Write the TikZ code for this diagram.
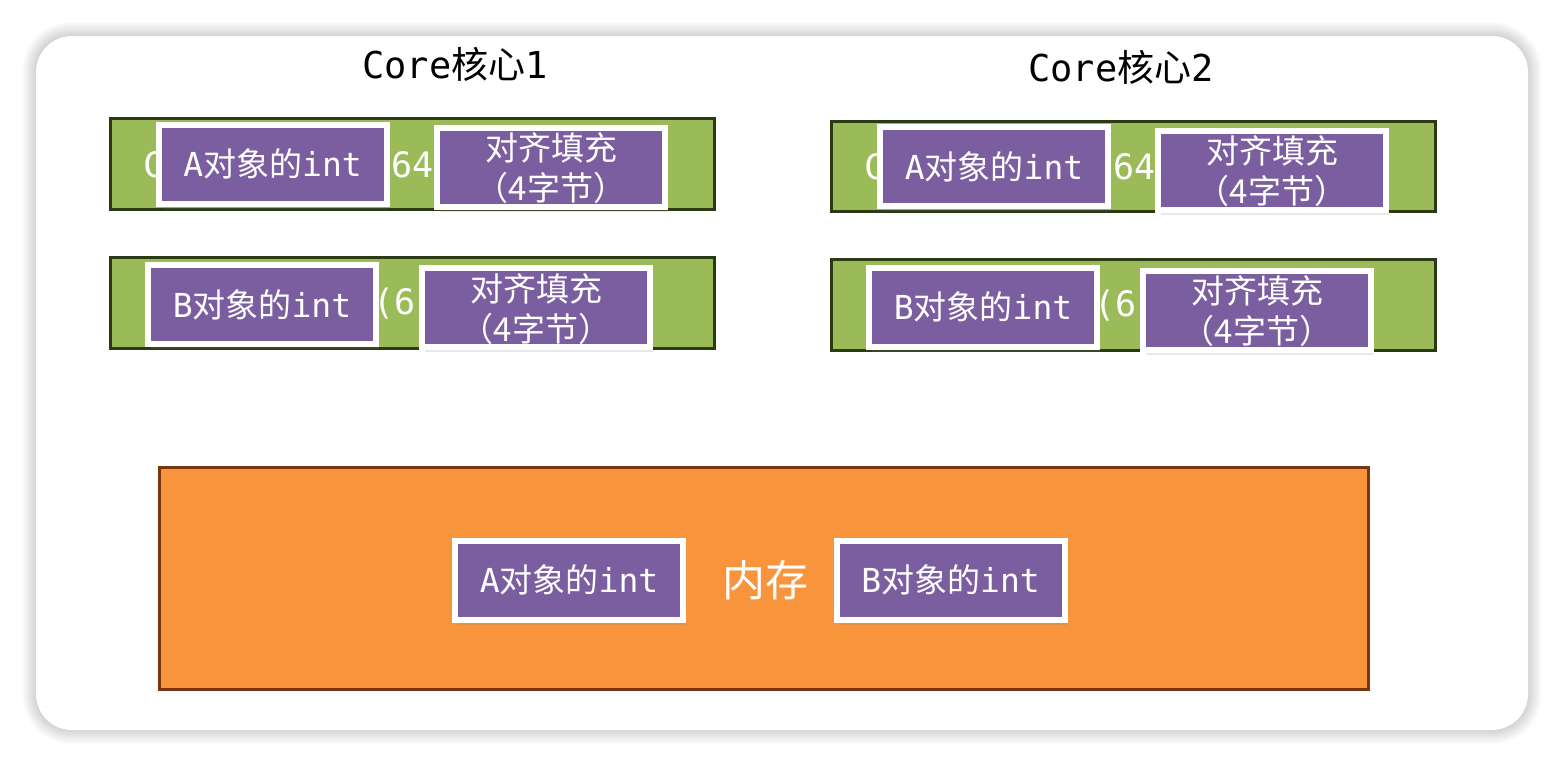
\documentclass[tikz,border=0pt]{standalone}
\usepackage{fontspec}
\setmonofont{DejaVu Sans Mono}
\newfontfamily\cjk{Noto Sans CJK SC}
\usetikzlibrary{shadows}
\definecolor{barfill}{HTML}{9BBB59}
\definecolor{bardraw}{HTML}{2C3A14}
\definecolor{objfill}{HTML}{7B5EA0}
\definecolor{memfill}{HTML}{F8943C}
\definecolor{memdraw}{HTML}{7A3510}
\newcommand{\mt}[1]{{\ttfamily #1}}
\newcommand{\ct}[1]{{\cjk #1}}
\tikzset{
  bar/.style={draw=bardraw, fill=barfill, line width=3pt},
  mem/.style={draw=memdraw, fill=memfill, line width=3pt},
  obj/.style={draw=white, fill=objfill, line width=6pt, minimum width=228pt, minimum height=79pt,
    inner sep=0pt, text=white, align=center,
    drop shadow={opacity=0.18, shadow xshift=3pt, shadow yshift=-5pt},
    font=\fontsize{33}{38}\selectfont},
  pad/.style={obj},
  padtxt/.style={text=white, inner sep=0pt, anchor=base, font=\fontsize{33}{38}\selectfont\cjk},
  frag/.style={text=white, anchor=west, inner sep=0pt, font=\fontsize{35}{38}\selectfont\ttfamily},
  title/.style={text=black, inner sep=0pt, font=\fontsize{37}{42}\selectfont},
}
\begin{document}
\begin{tikzpicture}[x=1pt,y=-1pt]
\useasboundingbox (0,0) rectangle (1564,766);
\fill[white] (0,0) rectangle (1564,766);
% card shadow
\foreach \i in {1,...,14}{
  \fill[black, opacity=0.011, rounded corners={35pt+\i pt}] (36-\i,36-\i) rectangle (1528+\i,730+\i);
}
\fill[white, rounded corners=36pt] (36,36) rectangle (1528,730);

% titles
\node[title] (t1) at (455,64) {\mt{Core}\ct{核心}\mt{1}};
\node[title] (t2) at (1121,67) {\mt{Core}\ct{核心}\mt{2}};

% core 1
\draw[bar] (110.5,118.5) rectangle (714.5,209.5);
\node[frag] (c1c) at (143,165) {C};
\node[frag] (c1n) at (391,165) {64};
\draw[bar] (110.5,257.5) rectangle (714.5,348.5);
\node[frag] (c1p) at (373,304) {(6};
\node[obj] (c1a) at (272.5,164) {\mt{A}\ct{对象的}\mt{int}};
\node[pad] (c1pa) at (551,167) {};
\node[padtxt] (c1pa1) at ([yshift=6.5pt]c1pa.center) {对齐填充};
\node[padtxt] (c1pa2) at ([yshift=-33.5pt]c1pa.center) {（4字节）};
\node[obj] (c1b) at (262,304.5) {\mt{B}\ct{对象的}\mt{int}};
\node[pad] (c1pb) at (536,307.5) {};
\node[padtxt] (c1pb1) at ([yshift=6.5pt]c1pb.center) {对齐填充};
\node[padtxt] (c1pb2) at ([yshift=-33.5pt]c1pb.center) {（4字节）};

% core 2
\draw[bar] (831.5,121.5) rectangle (1435.5,211.5);
\node[frag] (c2c) at (864,167) {C};
\node[frag] (c2n) at (1113,167) {64};
\draw[bar] (831.5,259.5) rectangle (1435.5,350.5);
\node[frag] (c2p) at (1094,306) {(6};
\node[obj] (c2a) at (994,166.5) {\mt{A}\ct{对象的}\mt{int}};
\node[pad] (c2pa) at (1272,170) {};
\node[padtxt] (c2pa1) at ([yshift=6.5pt]c2pa.center) {对齐填充};
\node[padtxt] (c2pa2) at ([yshift=-33.5pt]c2pa.center) {（4字节）};
\node[obj] (c2b) at (983,307) {\mt{B}\ct{对象的}\mt{int}};
\node[pad] (c2pb) at (1257,310) {};
\node[padtxt] (c2pb1) at ([yshift=6.5pt]c2pb.center) {对齐填充};
\node[padtxt] (c2pb2) at ([yshift=-33.5pt]c2pb.center) {（4字节）};

% memory
\draw[mem] (159.5,467.5) rectangle (1368.5,689.5);
\node[obj] (ma) at (569,580) {\mt{A}\ct{对象的}\mt{int}};
\node[text=white, inner sep=0pt, font=\fontsize{43}{46}\selectfont\cjk] (mm) at (765,580) {内存};
\node[obj] (mb) at (950.5,580) {\mt{B}\ct{对象的}\mt{int}};
\end{tikzpicture}
\end{document}
